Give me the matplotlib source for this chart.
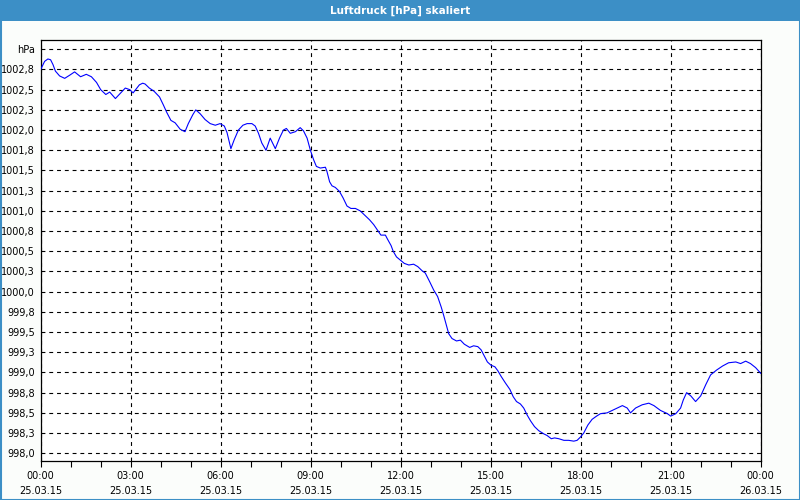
import matplotlib
matplotlib.use("Agg")
import matplotlib.pyplot as plt
from matplotlib.patches import Rectangle

title = "Luftdruck [hPa] skaliert"

hours = [
    0.00, 0.13, 0.24, 0.33, 0.41, 0.49, 0.63, 0.80, 0.97, 1.13, 1.33, 1.52, 1.69, 1.86,
    2.00, 2.17, 2.30, 2.49, 2.67, 2.82, 2.97, 3.08, 3.29, 3.40, 3.48, 3.62, 3.78, 3.96,
    4.09, 4.20, 4.34, 4.48, 4.65, 4.81, 4.92, 5.07, 5.17, 5.32, 5.48, 5.65, 5.82, 5.98,
    6.12, 6.21, 6.34, 6.45, 6.59, 6.74, 6.88, 7.04, 7.15, 7.26, 7.37, 7.51, 7.65, 7.82,
    7.96, 8.09, 8.19, 8.32, 8.49, 8.65, 8.76, 8.88, 8.99, 9.10, 9.19, 9.32, 9.49, 9.54,
    9.63, 9.71, 9.82, 9.96, 10.08, 10.21, 10.34, 10.49, 10.65, 10.82, 10.96, 11.10, 11.23,
    11.34, 11.49, 11.56, 11.68, 11.75, 11.86, 11.99, 12.12, 12.27, 12.43, 12.57, 12.71,
    12.82, 12.97, 13.10, 13.23, 13.35, 13.43, 13.52, 13.60, 13.71, 13.86, 13.99, 14.12,
    14.30, 14.43, 14.57, 14.68, 14.79, 14.89, 15.01, 15.14, 15.24, 15.35, 15.49, 15.64,
    15.75, 15.86, 15.99, 16.10, 16.22, 16.33, 16.46, 16.60, 16.77, 16.88, 17.02, 17.13,
    17.27, 17.44, 17.60, 17.77, 17.88, 17.99, 18.10, 18.24, 18.38, 18.53, 18.66, 18.88,
    19.11, 19.39, 19.55, 19.66, 19.83, 20.05, 20.27, 20.44, 20.66, 20.89, 21.00, 21.17,
    21.33, 21.42, 21.53, 21.67, 21.83, 22.00, 22.17, 22.33, 22.53, 22.73, 22.93, 23.17,
    23.33, 23.50, 23.66, 23.83, 24.00,
]

pressure = [
    1002.75, 1002.85, 1002.88, 1002.87, 1002.81, 1002.73, 1002.67, 1002.64, 1002.68, 1002.72,
    1002.66, 1002.69, 1002.66, 1002.59, 1002.50, 1002.44, 1002.47, 1002.39, 1002.46, 1002.52,
    1002.50, 1002.46, 1002.56, 1002.58, 1002.57, 1002.52, 1002.48, 1002.41, 1002.31, 1002.22,
    1002.12, 1002.09, 1002.01, 1001.98, 1002.08, 1002.19, 1002.25, 1002.20, 1002.13, 1002.08,
    1002.06, 1002.08, 1002.05, 1001.97, 1001.77, 1001.88, 1002.00, 1002.06, 1002.08, 1002.08,
    1002.05, 1001.96, 1001.84, 1001.75, 1001.90, 1001.77, 1001.90, 1002.00, 1002.02, 1001.96,
    1001.98, 1002.03, 1001.99, 1001.90, 1001.75, 1001.63, 1001.55, 1001.53, 1001.54, 1001.49,
    1001.36, 1001.31, 1001.29, 1001.24, 1001.16, 1001.06, 1001.03, 1001.03, 1001.00, 1000.94,
    1000.89, 1000.83, 1000.76, 1000.70, 1000.70, 1000.65, 1000.57, 1000.50, 1000.43, 1000.39,
    1000.35, 1000.33, 1000.34, 1000.31, 1000.26, 1000.23, 1000.12, 1000.02, 999.94, 999.81,
    999.71, 999.59, 999.48, 999.42, 999.39, 999.40, 999.35, 999.31, 999.33, 999.32,
    999.28, 999.20, 999.13, 999.09, 999.07, 999.02, 998.95, 998.87, 998.79, 998.70,
    998.64, 998.61, 998.56, 998.47, 998.40, 998.33, 998.28, 998.24, 998.22, 998.18,
    998.19, 998.18, 998.16, 998.16, 998.15, 998.16, 998.20, 998.25, 998.35, 998.42,
    998.46, 998.49, 998.50, 998.54, 998.59, 998.56, 998.50, 998.56, 998.60, 998.62,
    998.59, 998.53, 998.49, 998.46, 998.49, 998.56, 998.66, 998.75, 998.71, 998.64,
    998.71, 998.85, 998.97, 999.03, 999.08, 999.12, 999.13, 999.11, 999.14, 999.11,
    999.06, 998.99,
]

ytick_values = [998.0, 998.25, 998.5, 998.75, 999.0, 999.25, 999.5, 999.75, 1000.0, 1000.25,
                1000.5, 1000.75, 1001.0, 1001.25, 1001.5, 1001.75, 1002.0, 1002.25, 1002.5,
                1002.75, 1003.0]
ytick_labels = ["998,0", "998,3", "998,5", "998,8", "999,0", "999,3", "999,5", "999,8",
                "1000,0", "1000,3", "1000,5", "1000,8", "1001,0", "1001,3", "1001,5", "1001,8",
                "1002,0", "1002,3", "1002,5", "1002,8", "hPa"]

xtick_hours = [0, 3, 6, 9, 12, 15, 18, 21, 24]
xtick_times = ["00:00", "03:00", "06:00", "09:00", "12:00", "15:00", "18:00", "21:00", "00:00"]
xtick_dates = ["25.03.15"] * 8 + ["26.03.15"]
minor_hours = list(range(25))

BLUE = "#3c8fc6"
W, H = 800, 500
FS = 7

fig = plt.figure(figsize=(8, 5), dpi=100, facecolor="#fbfdfb")

# title bar and frame
fig.patches.append(Rectangle((0, 1 - 20.5 / H), 1, 20.5 / H, transform=fig.transFigure,
                             facecolor=BLUE, edgecolor="none", zorder=0))
fig.patches.append(Rectangle((0.5 / W, 0.5 / H), 1 - 1 / W, 1 - 1 / H, transform=fig.transFigure,
                             facecolor="none", edgecolor=BLUE, lw=1.5, zorder=1))
fig.text(0.5, 1 - 10.5 / H, title, color="white", fontsize=7.5, fontweight="bold",
         ha="center", va="center", family="DejaVu Sans")

ax = fig.add_axes([40.7 / W, 39.3 / H, 720 / W, 420.4 / H])
ax.set_facecolor("white")
ax.plot(hours, pressure, color="#0000ff", lw=0.8, zorder=3)

ax.set_xlim(0, 24)
ax.set_ylim(997.908, 1003.111)

ax.set_yticks(ytick_values)
ax.set_yticklabels(ytick_labels)
ax.set_xticks(xtick_hours)
ax.set_xticklabels([f"{t}\n{d}" for t, d in zip(xtick_times, xtick_dates)], linespacing=1.6)
ax.set_xticks(minor_hours, minor=True)

ax.tick_params(axis="y", length=0, pad=4, labelsize=FS, labelcolor="black")
ax.tick_params(axis="x", which="both", length=4, width=0.8, direction="out", pad=3.5,
               labelsize=FS, labelcolor="black")
ax.grid(True, which="major", color="black", linestyle=(0, (3.5, 3.5)), lw=0.8)
for s in ax.spines.values():
    s.set_color("black")
    s.set_linewidth(0.9)

fig.savefig("out.png", dpi=100, facecolor=fig.get_facecolor())
